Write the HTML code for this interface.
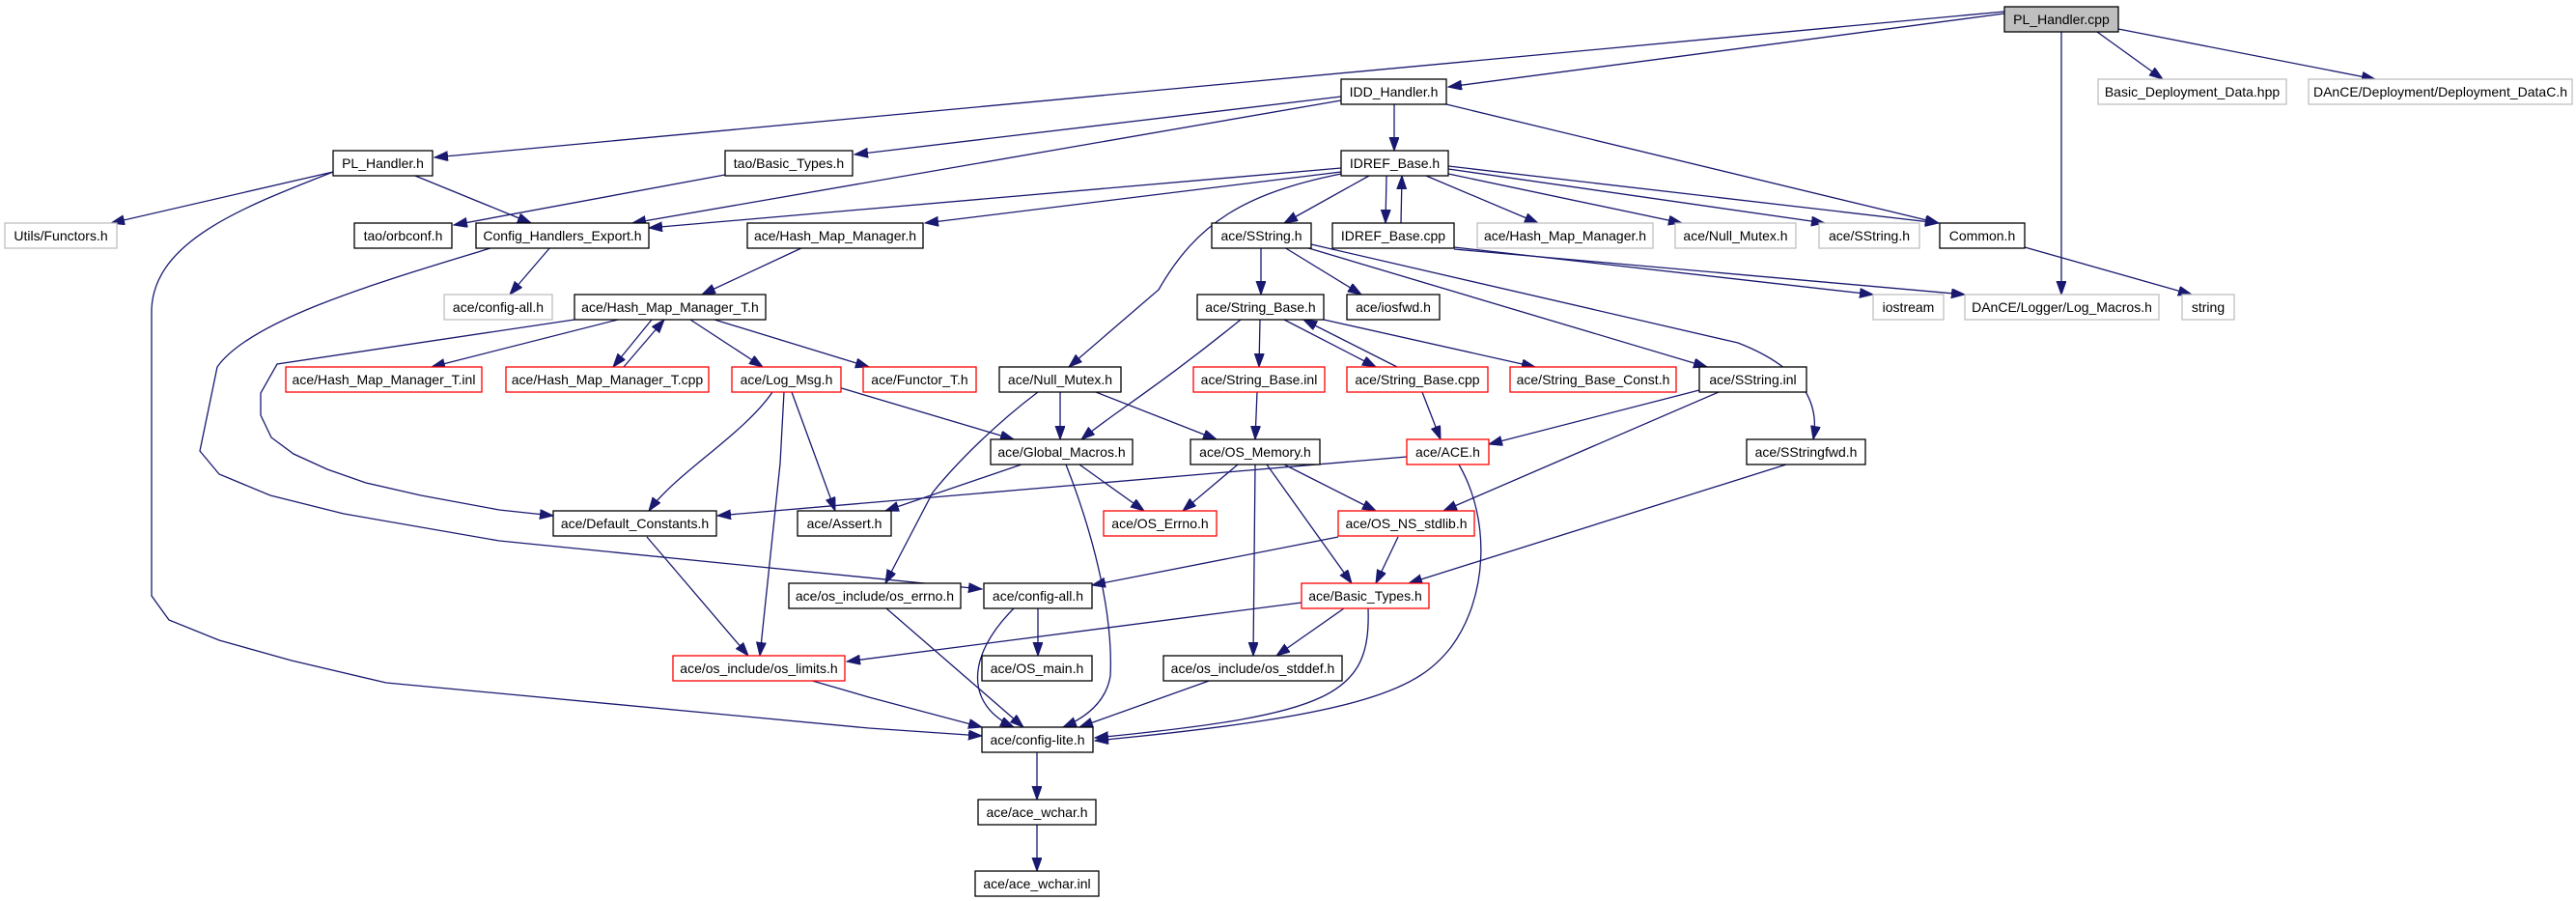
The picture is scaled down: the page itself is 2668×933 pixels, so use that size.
<!DOCTYPE html>
<html><head><meta charset="utf-8"><style>
html,body{margin:0;padding:0;background:#fff;}
svg{display:block;}
text{font-family:"Liberation Sans",sans-serif;font-size:14px;text-anchor:middle;fill:#000;}
.e{fill:none;stroke:#191970;stroke-width:1.3;marker-end:url(#ah);}
.b{fill:#fff;stroke:#000;stroke-width:1.3;}
.r{fill:#fff;stroke:#ff0000;stroke-width:1.3;}
.g{fill:#fff;stroke:#bfbfbf;stroke-width:1.3;}
</style></head><body>
<svg width="2668" height="933" viewBox="0 0 2668 933" xmlns="http://www.w3.org/2000/svg">
<defs><marker id="ah" markerUnits="userSpaceOnUse" markerWidth="15" markerHeight="11" refX="14" refY="5" orient="auto"><path d="M0,0 L14,5 L0,10 z" fill="#191970" stroke="#191970"/></marker></defs>
<g>
<path class="e" d="M2076,14 L1500,90"/>
<path class="e" d="M2076,12 L450,163"/>
<path class="e" d="M2172,33 L2240,82"/>
<path class="e" d="M2194,30 L2460,82"/>
<path class="e" d="M2135,33 L2135,305"/>
<path class="e" d="M1444,108 L1444,156"/>
<path class="e" d="M1389,100 L885,160"/>
<path class="e" d="M1389,104 L655,231"/>
<path class="e" d="M1498,108 L2008,231"/>
<path class="e" d="M345,178 L115,231"/>
<path class="e" d="M430,182 L550,231"/>
<path class="e" d="M345,178 C250,215 160,250 157,320 L157,617 L175,642 L227,663 L302,684 L400,707 L900,754 L1017,762"/>
<path class="e" d="M751,181 L470,233"/>
<path class="e" d="M1389,174 L672,236"/>
<path class="e" d="M1389,178 L958,231"/>
<path class="e" d="M1389,180 C1290,200 1240,230 1200,300 L1107,380"/>
<path class="e" d="M1418,182 L1330,231"/>
<path class="e" d="M1436,182 L1435,231"/>
<path class="e" d="M1451,231 L1452,182"/>
<path class="e" d="M1477,182 L1593,231"/>
<path class="e" d="M1500,180 L1742,231"/>
<path class="e" d="M1500,175 L1890,231"/>
<path class="e" d="M1500,172 L2008,231"/>
<path class="e" d="M1506,256 L1940,305"/>
<path class="e" d="M1506,258 L2035,305"/>
<path class="e" d="M2097,256 L2270,305"/>
<path class="e" d="M570,256 L528,305"/>
<path class="e" d="M508,257 C400,290 260,330 225,380 L207,467 L227,491 L280,513 L356,532 L517,560 L1017,610"/>
<path class="e" d="M832,256 L727,305"/>
<path class="e" d="M640,331 L447,380"/>
<path class="e" d="M675,331 L635,380"/>
<path class="e" d="M646,380 L688,331"/>
<path class="e" d="M715,331 L790,380"/>
<path class="e" d="M740,331 L900,380"/>
<path class="e" d="M595,331 L287,377 L270,407 L270,430 L281,453 L304,470 L339,486 L379,500 L436,513 L517,528 L573,534"/>
<path class="e" d="M800,406 C770,450 700,490 672,529"/>
<path class="e" d="M812,406 L808,480 L787,679"/>
<path class="e" d="M820,406 L865,529"/>
<path class="e" d="M865,400 L1050,455"/>
<path class="e" d="M1306,256 L1306,305"/>
<path class="e" d="M1330,256 L1410,305"/>
<path class="e" d="M1352,256 L1768,380"/>
<path class="e" d="M1358,253 L1800,355 Q1890,390 1878,455"/>
<path class="e" d="M1285,331 C1200,400 1150,430 1120,455"/>
<path class="e" d="M1305,331 L1304,380"/>
<path class="e" d="M1330,331 L1425,380"/>
<path class="e" d="M1447,380 L1350,331"/>
<path class="e" d="M1371,331 L1590,380"/>
<path class="e" d="M1473,406 L1492,455"/>
<path class="e" d="M1302,406 L1300,455"/>
<path class="e" d="M1098,406 L1098,455"/>
<path class="e" d="M1135,406 L1260,455"/>
<path class="e" d="M1075,406 C1030,440 990,480 966,510 L917,604"/>
<path class="e" d="M1760,404 L1542,460"/>
<path class="e" d="M1780,406 L1495,529"/>
<path class="e" d="M1850,481 L1459,604"/>
<path class="e" d="M1058,481 L917,529"/>
<path class="e" d="M1118,481 L1185,529"/>
<path class="e" d="M1104,481 C1135,560 1153,640 1150,700 C1145,730 1120,745 1101,753"/>
<path class="e" d="M1282,481 L1225,529"/>
<path class="e" d="M1330,481 L1425,529"/>
<path class="e" d="M1312,481 L1400,604"/>
<path class="e" d="M1300,481 L1298,679"/>
<path class="e" d="M1457,473 L743,534"/>
<path class="e" d="M1511,481 C1545,540 1540,620 1503,670 C1470,712 1420,740 1134,767"/>
<path class="e" d="M1386,556 L1131,606"/>
<path class="e" d="M1448,556 L1425,604"/>
<path class="e" d="M670,556 L775,679"/>
<path class="e" d="M918,630 L1060,753"/>
<path class="e" d="M1075,630 L1075,679"/>
<path class="e" d="M1050,630 C1000,680 1000,730 1050,753"/>
<path class="e" d="M1348,624 L877,685"/>
<path class="e" d="M1392,630 L1322,679"/>
<path class="e" d="M1417,630 C1420,720 1380,740 1134,764"/>
<path class="e" d="M1255,704 L1118,753"/>
<path class="e" d="M838,704 L900,722 L1017,753"/>
<path class="e" d="M1074,779 L1074,828"/>
<path class="e" d="M1074,854 L1074,902"/>
</g>
<g>
<rect x="2076" y="7" width="118" height="26" fill="#bfbfbf" stroke="#000" stroke-width="1.3"/><text x="2135" y="25">PL_Handler.cpp</text>
<rect class="b" x="1389" y="82" width="109" height="26"/><text x="1443.5" y="100">IDD_Handler.h</text>
<rect class="g" x="2173" y="82" width="195" height="26"/><text x="2270.5" y="100">Basic_Deployment_Data.hpp</text>
<rect class="g" x="2391" y="82" width="273" height="26"/><text x="2527.5" y="100">DAnCE/Deployment/Deployment_DataC.h</text>
<rect class="b" x="345" y="156" width="103" height="26"/><text x="396.5" y="174">PL_Handler.h</text>
<rect class="b" x="751" y="156" width="132" height="26"/><text x="817" y="174">tao/Basic_Types.h</text>
<rect class="b" x="1389" y="156" width="111" height="26"/><text x="1444.5" y="174">IDREF_Base.h</text>
<rect class="g" x="5" y="231" width="116" height="26"/><text x="63" y="249">Utils/Functors.h</text>
<rect class="b" x="367" y="231" width="101" height="26"/><text x="417.5" y="249">tao/orbconf.h</text>
<rect class="b" x="493" y="231" width="179" height="26"/><text x="582.5" y="249">Config_Handlers_Export.h</text>
<rect class="b" x="774" y="231" width="182" height="26"/><text x="865" y="249">ace/Hash_Map_Manager.h</text>
<rect class="b" x="1255" y="231" width="103" height="26"/><text x="1306.5" y="249">ace/SString.h</text>
<rect class="b" x="1380" y="231" width="126" height="26"/><text x="1443" y="249">IDREF_Base.cpp</text>
<rect class="g" x="1530" y="231" width="182" height="26"/><text x="1621" y="249">ace/Hash_Map_Manager.h</text>
<rect class="g" x="1735" y="231" width="125" height="26"/><text x="1797.5" y="249">ace/Null_Mutex.h</text>
<rect class="g" x="1884" y="231" width="104" height="26"/><text x="1936" y="249">ace/SString.h</text>
<rect class="b" x="2009" y="231" width="88" height="26"/><text x="2053" y="249">Common.h</text>
<rect class="g" x="460" y="305" width="112" height="26"/><text x="516" y="323">ace/config-all.h</text>
<rect class="b" x="595" y="305" width="198" height="26"/><text x="694" y="323">ace/Hash_Map_Manager_T.h</text>
<rect class="b" x="1240" y="305" width="131" height="26"/><text x="1305.5" y="323">ace/String_Base.h</text>
<rect class="b" x="1395" y="305" width="96" height="26"/><text x="1443" y="323">ace/iosfwd.h</text>
<rect class="g" x="1940" y="305" width="73" height="26"/><text x="1976.5" y="323">iostream</text>
<rect class="g" x="2035" y="305" width="201" height="26"/><text x="2135.5" y="323">DAnCE/Logger/Log_Macros.h</text>
<rect class="g" x="2260" y="305" width="54" height="26"/><text x="2287" y="323">string</text>
<rect class="r" x="296" y="380" width="203" height="26"/><text x="397.5" y="398">ace/Hash_Map_Manager_T.inl</text>
<rect class="r" x="524" y="380" width="210" height="26"/><text x="629" y="398">ace/Hash_Map_Manager_T.cpp</text>
<rect class="r" x="758" y="380" width="113" height="26"/><text x="814.5" y="398">ace/Log_Msg.h</text>
<rect class="r" x="894" y="380" width="117" height="26"/><text x="952.5" y="398">ace/Functor_T.h</text>
<rect class="b" x="1035" y="380" width="126" height="26"/><text x="1098" y="398">ace/Null_Mutex.h</text>
<rect class="r" x="1236" y="380" width="136" height="26"/><text x="1304" y="398">ace/String_Base.inl</text>
<rect class="r" x="1395" y="380" width="146" height="26"/><text x="1468" y="398">ace/String_Base.cpp</text>
<rect class="r" x="1564" y="380" width="172" height="26"/><text x="1650" y="398">ace/String_Base_Const.h</text>
<rect class="b" x="1760" y="380" width="111" height="26"/><text x="1815.5" y="398">ace/SString.inl</text>
<rect class="b" x="1026" y="455" width="147" height="26"/><text x="1099.5" y="473">ace/Global_Macros.h</text>
<rect class="b" x="1233" y="455" width="134" height="26"/><text x="1300" y="473">ace/OS_Memory.h</text>
<rect class="r" x="1457" y="455" width="85" height="26"/><text x="1499.5" y="473">ace/ACE.h</text>
<rect class="b" x="1809" y="455" width="123" height="26"/><text x="1870.5" y="473">ace/SStringfwd.h</text>
<rect class="b" x="573" y="529" width="169" height="26"/><text x="657.5" y="547">ace/Default_Constants.h</text>
<rect class="b" x="826" y="529" width="97" height="26"/><text x="874.5" y="547">ace/Assert.h</text>
<rect class="r" x="1143" y="529" width="117" height="26"/><text x="1201.5" y="547">ace/OS_Errno.h</text>
<rect class="r" x="1386" y="529" width="141" height="26"/><text x="1456.5" y="547">ace/OS_NS_stdlib.h</text>
<rect class="b" x="817" y="604" width="178" height="26"/><text x="906" y="622">ace/os_include/os_errno.h</text>
<rect class="b" x="1019" y="604" width="112" height="26"/><text x="1075" y="622">ace/config-all.h</text>
<rect class="r" x="1348" y="604" width="132" height="26"/><text x="1414" y="622">ace/Basic_Types.h</text>
<rect class="r" x="697" y="679" width="178" height="26"/><text x="786" y="697">ace/os_include/os_limits.h</text>
<rect class="b" x="1017" y="679" width="114" height="26"/><text x="1074" y="697">ace/OS_main.h</text>
<rect class="b" x="1205" y="679" width="185" height="26"/><text x="1297.5" y="697">ace/os_include/os_stddef.h</text>
<rect class="b" x="1017" y="753" width="115" height="26"/><text x="1074.5" y="771">ace/config-lite.h</text>
<rect class="b" x="1013" y="828" width="122" height="26"/><text x="1074" y="846">ace/ace_wchar.h</text>
<rect class="b" x="1010" y="902" width="128" height="26"/><text x="1074" y="920">ace/ace_wchar.inl</text>
</g>
</svg>
</body></html>
